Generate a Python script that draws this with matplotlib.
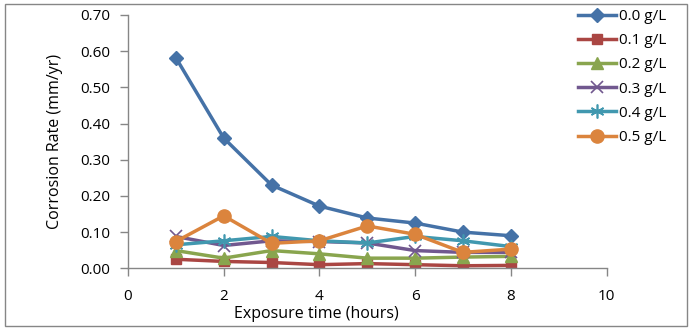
import matplotlib
matplotlib.use("Agg")
import matplotlib.pyplot as plt
from matplotlib.patches import Rectangle

plt.rcParams['font.family'] = ['Open Sans', 'DejaVu Sans']

hours = [1, 2, 3, 4, 5, 6, 7, 8]
labels = ['0.0 g/L', '0.1 g/L', '0.2 g/L', '0.3 g/L', '0.4 g/L', '0.5 g/L']
s00 = [0.582, 0.360, 0.230, 0.172, 0.139, 0.125, 0.100, 0.090]
s01 = [0.025, 0.019, 0.016, 0.010, 0.013, 0.010, 0.007, 0.008]
s02 = [0.049, 0.028, 0.049, 0.040, 0.028, 0.028, 0.031, 0.033]
s03 = [0.088, 0.063, 0.076, 0.074, 0.070, 0.049, 0.044, 0.044]
s04 = [0.065, 0.076, 0.088, 0.076, 0.070, 0.088, 0.076, 0.060]
s05 = [0.074, 0.145, 0.069, 0.076, 0.117, 0.094, 0.044, 0.053]
series = [s00, s01, s02, s03, s04, s05]

colors = ['#4572A7', '#AA4643', '#89A54E', '#71588F', '#4198AF', '#DB843D']
markers = ['D', 's', '^', 'x', (6, 2, 0), 'o']
msizes = [7, 7.5, 8, 9, 10, 9.5]

W, H = 694, 332
fig = plt.figure(figsize=(W / 100, H / 100), dpi=100)
ax = fig.add_axes([128 / W, 1 - 268.3 / H, (606.5 - 128) / W, (268.3 - 15) / H])

for vals, lab, c, m, ms in zip(series, labels, colors, markers, msizes):
    ax.plot(hours, vals, color=c, lw=2.5, marker=m, markersize=ms,
            markeredgecolor=c, markerfacecolor=c,
            markeredgewidth=1.2 if (m == 'x' or isinstance(m, tuple)) else 1,
            label=lab)

ax.set_xlim(0, 10)
ax.set_ylim(0, 0.70)
ax.set_xticks([0, 2, 4, 6, 8, 10])
ax.set_yticks([i / 10 for i in range(8)])
ax.set_yticklabels([f"{i / 10:.2f}" for i in range(8)])
for sp in ['top', 'right']:
    ax.spines[sp].set_visible(False)
for sp in ['left', 'bottom']:
    ax.spines[sp].set_color('#868686')
    ax.spines[sp].set_linewidth(1)
ax.tick_params(axis='both', colors='#868686', length=6, width=1, labelcolor='black', labelsize=11)
ax.tick_params(axis='x', pad=9)
ax.tick_params(axis='y', pad=7)

ax.set_xlabel('Exposure time (hours)', fontsize=11.5)
ax.xaxis.set_label_coords((316.5 - 128) / (606.5 - 128), -(314.5 - 268.3) / (268.3 - 15))
ax.xaxis.label.set_verticalalignment('center')
ax.set_ylabel('Corrosion Rate (mm/yr)', fontsize=11.5)
ax.yaxis.set_label_coords(-(128 - 55) / (606.5 - 128), 0.5)
ax.yaxis.label.set_verticalalignment('center')

leg = fig.legend(loc='upper left', bbox_to_anchor=(572 / W, 1 - 3 / H), frameon=False,
                 fontsize=11, handlelength=2.5, labelspacing=0.6, handletextpad=0.2,
                 borderaxespad=0)

fig.patches.append(Rectangle((5 / W, 1 - 326 / H), (687 - 5) / W, (326 - 4) / H,
                             transform=fig.transFigure, fill=False, edgecolor='#868686', lw=1))

fig.savefig('out.png', dpi=100)
